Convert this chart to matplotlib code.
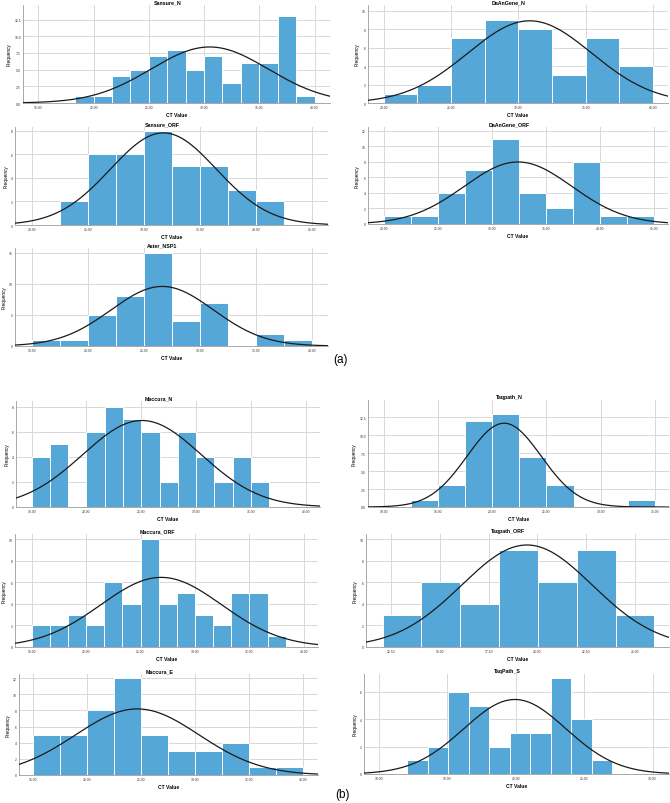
import numpy as np
import matplotlib
matplotlib.use('Agg')
import matplotlib.pyplot as plt

plt.rcParams['font.family'] = ['Liberation Sans', 'DejaVu Sans']

# panel names
titles = ['Sansure_N', 'DaAnGene_N', 'Sansure_ORF', 'DaAnGene_ORF', 'Aster_NSP1',
          'Maccura_N', 'Taqpath_N', 'Maccura_ORF', 'Taqpath_ORF', 'Maccura_E', 'TaqPath_S']

# bar counts, left to right
sansure_n = [1, 1, 4, 5, 7, 8, 5, 7, 3, 6, 6, 13, 1]
daangene_n = [1, 2, 7, 9, 8, 3, 7, 4]
sansure_orf = [2, 6, 6, 8, 5, 5, 3, 2]
daangene_orf = [1, 1, 4, 7, 11, 4, 2, 8, 1, 1]
aster_nsp1 = [1, 1, 5, 8, 15, 4, 7, 0, 2, 1]
maccura_n = [4, 5, 0, 6, 8, 7, 6, 2, 6, 4, 2, 4, 2]
taqpath_n = [1, 3, 12, 13, 7, 3, 0, 0, 1]
maccura_orf = [2, 2, 3, 2, 6, 4, 10, 4, 5, 3, 2, 5, 5, 1]
taqpath_orf = [3, 6, 4, 9, 6, 9, 3]
maccura_e = [5, 5, 8, 12, 5, 3, 3, 4, 1, 1]
taqpath_s = [1, 2, 6, 5, 2, 3, 3, 7, 4, 1]
counts = [sansure_n, daangene_n, sansure_orf, daangene_orf, aster_nsp1,
          maccura_n, taqpath_n, maccura_orf, taqpath_orf, maccura_e, taqpath_s]

# first bin edge and bin width (CT value)
bin_start = [18.33, 20, 22.5, 20, 15, 15, 12.5, 15, 12.07, 15, 12.05]
bin_width = [5 / 3, 2.5, 2.5, 2.5, 2.5, 5 / 3, 2.5, 5 / 3, 1.99, 2.5, 1.5]

# normal curve drawn over each histogram: mean and sd
curve_mean = [30.5, 30.84, 31.7, 32.4, 26.6, 25.06, 21.1, 26.9, 19.47, 24.66, 19.93]
curve_sd = [5.3, 4.6, 4.73, 4.99, 4.57, 5.4, 3.42, 5.55, 3.35, 5.73, 3.74]

# axis ticks
x_ticks = [[15, 20, 25, 30, 35, 40], [20, 25, 30, 35, 40], [20, 25, 30, 35, 40, 45],
           [20, 25, 30, 35, 40, 45], [15, 20, 25, 30, 35, 40], [15, 20, 25, 30, 35, 40],
           [10, 15, 20, 25, 30, 35], [15, 20, 25, 30, 35, 40],
           [12.5, 15, 17.5, 20, 22.5, 25], [15, 20, 25, 30, 35, 40], [10, 15, 20, 25, 30]]
y_ticks = [[0, 2.5, 5, 7.5, 10, 12.5], [0, 2, 4, 6, 8, 10], [0, 2, 4, 6, 8],
           [0, 2, 4, 6, 8, 10, 12], [0, 5, 10, 15], [0, 2, 4, 6, 8],
           [0, 2.5, 5, 7.5, 10, 12.5], [0, 2, 4, 6, 8, 10], [0, 2, 4, 6, 8, 10],
           [0, 2, 4, 6, 8, 10, 12], [0, 2, 4, 6]]
y_fmt = ['%.1f', '%d', '%d', '%d', '%d', '%d', '%.1f', '%d', '%d', '%d', '%d']

# layout (pixels: left, right, top, bottom) and axis limits
boxes = [(23, 330, 6, 104), (368, 668, 6, 104), (15, 328, 128, 226), (368, 668, 128, 225),
         (15, 328, 249, 347), (16, 320, 402, 508), (368, 669, 401, 508), (15, 318, 535, 648),
         (366, 669, 535, 648), (19, 318, 675, 776), (364, 669, 675, 775)]
xlims = [(13.6, 41.4), (18.84, 41.1), (18.45, 46.4), (18.5, 46.3), (13.45, 41.4), (13.57, 41.3),
         (8.55, 36.3), (13.47, 41.3), (11.22, 26.75), (13.7, 41.4), (8.9, 31.2)]
ytops = [14.7, 10.6, 8.3, 12.5, 15.8, 8.45, 14.9, 10.5, 10.5, 12.5, 7.3]

W, H = 670, 804
fig = plt.figure(figsize=(6.7, 8.04), dpi=100)
bar_col = '#55a7d7'

for i in range(len(titles)):
    l, r, t, b = boxes[i]
    ax = fig.add_axes([l / W, 1 - b / H, (r - l) / W, (b - t) / H])
    c = np.array(counts[i])
    edges = bin_start[i] + bin_width[i] * np.arange(len(c))
    ax.bar(edges, c, width=bin_width[i], align='edge', color=bar_col,
           edgecolor='white', linewidth=0.7, zorder=2)
    xs = np.linspace(xlims[i][0], xlims[i][1], 300)
    mu, sd = curve_mean[i], curve_sd[i]
    ys = c.sum() * bin_width[i] * np.exp(-0.5 * ((xs - mu) / sd) ** 2) / (sd * np.sqrt(2 * np.pi))
    ax.plot(xs, ys, color='#1a1a1a', linewidth=0.9, zorder=3)
    ax.set_xlim(xlims[i])
    ax.set_ylim(0, ytops[i])
    ax.set_xticks(x_ticks[i])
    ax.set_xticklabels(['%.2f' % v for v in x_ticks[i]])
    ax.set_yticks(y_ticks[i])
    ax.set_yticklabels([y_fmt[i] % v for v in y_ticks[i]])
    ax.tick_params(labelsize=2.4, length=0, pad=1.5, colors='#333333')
    ax.grid(True, color='#d8d8d8', linewidth=0.7, zorder=0)
    ax.set_axisbelow(True)
    for s in ['top', 'right']:
        ax.spines[s].set_visible(False)
    for s in ['left', 'bottom']:
        ax.spines[s].set_color('#9a9a9a')
        ax.spines[s].set_linewidth(0.6)
    ax.set_title(titles[i], fontsize=3.8, fontweight='bold', pad=1.5, x=0.47)
    ax.set_xlabel('CT Value', fontsize=3.6, fontweight='bold', labelpad=2)
    ax.set_ylabel('Frequency', fontsize=3.4, labelpad=2)

fig.text(340 / W, 1 - 360 / H, '(a)', fontsize=8.5, ha='center', va='center')
fig.text(343 / W, 1 - 795 / H, '(b)', fontsize=8.5, ha='center', va='center')

fig.savefig('out.png', dpi=100)
